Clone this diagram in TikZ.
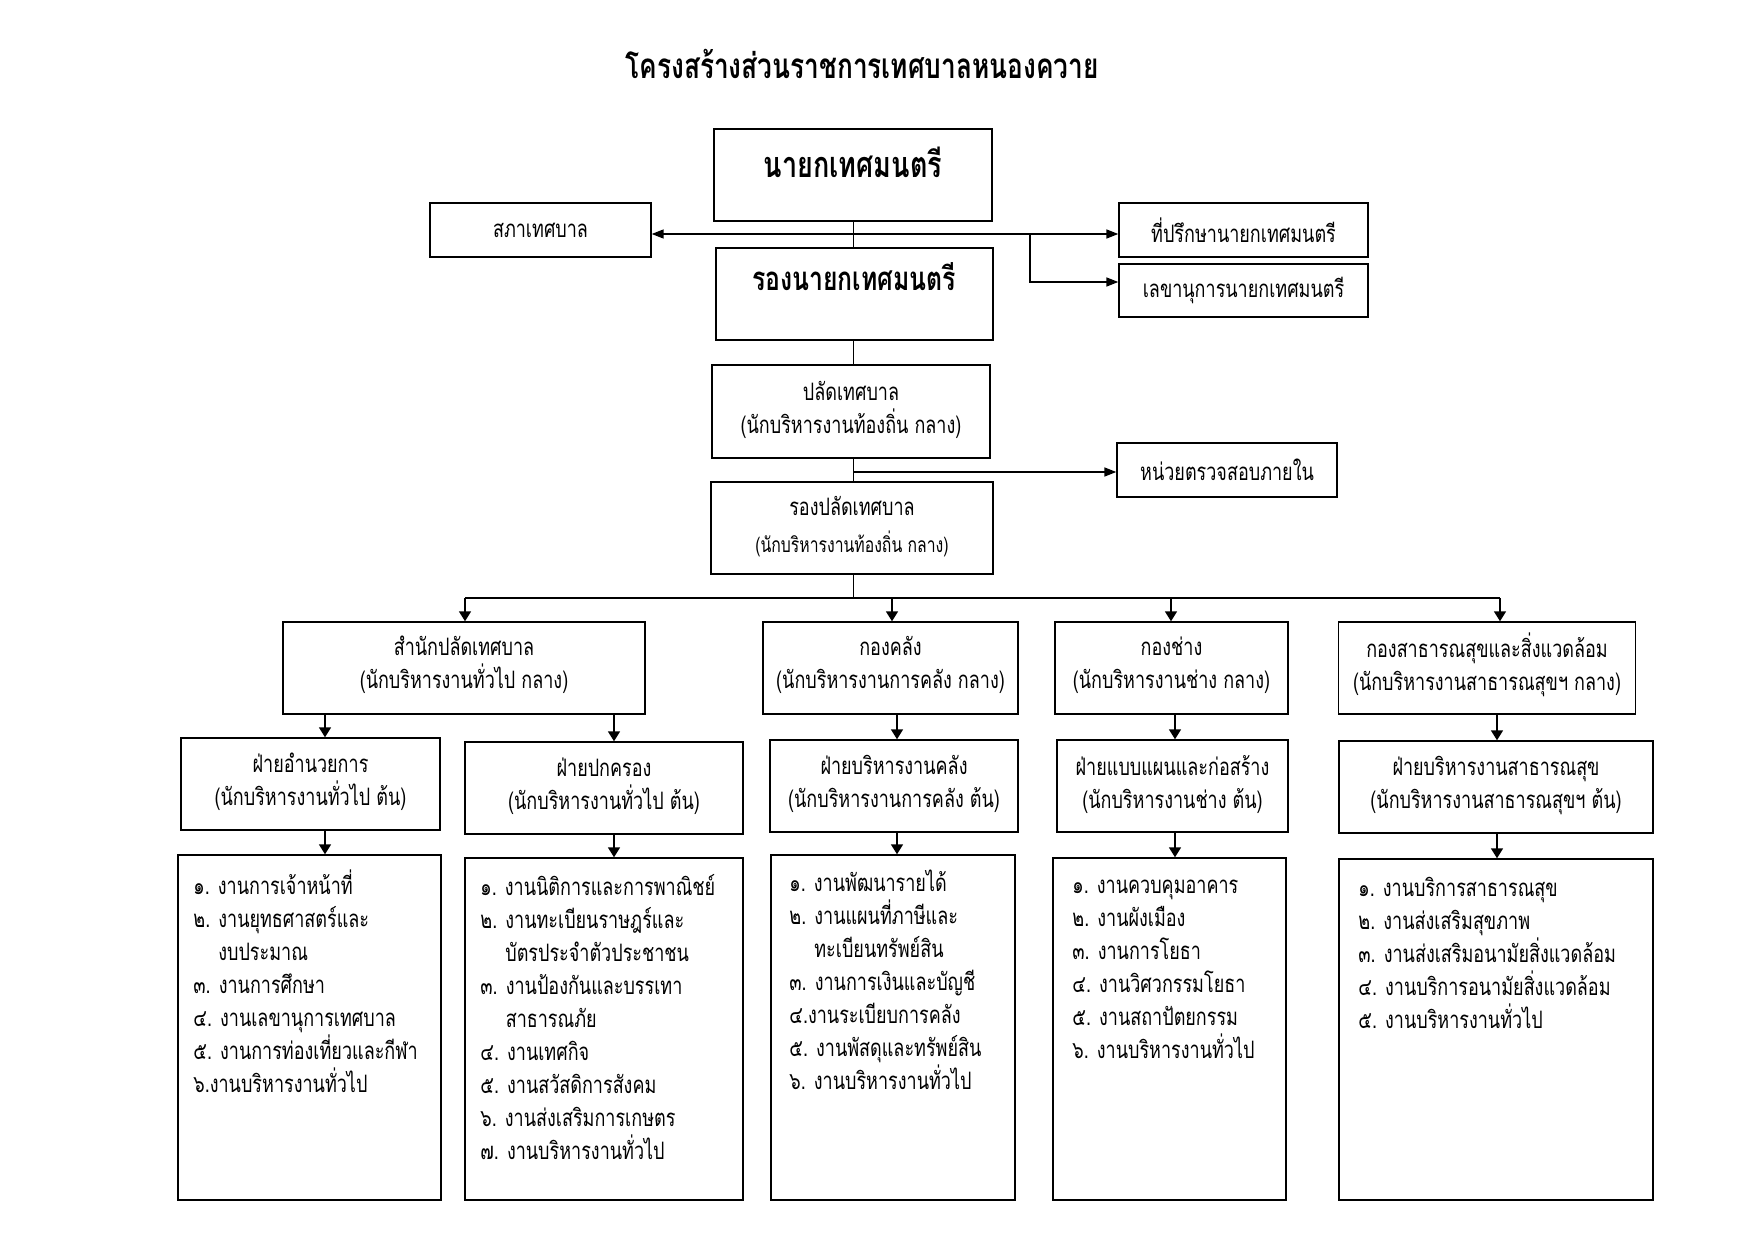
\documentclass[tikz,border=0pt]{standalone}
\usepackage{fontspec}
\setmainfont[Script=Thai,FakeStretch=0.75]{Loma}
\usetikzlibrary{arrows.meta,calc}
\begin{document}
\begin{tikzpicture}[x=0.5pt,y=-0.5pt,
  box/.style={draw,line width=0.7pt,inner sep=0pt,rectangle},
  bx/.style n args={2}{box,minimum width=#1*0.5pt,minimum height=#2*0.5pt},
  tx/.style={font=\fontsize{12}{16.5}\selectfont,align=center,inner sep=0pt},
  bigt/.style={font=\fontsize{18}{22}\selectfont\bfseries,inner sep=0pt},
  lst/.style={font=\fontsize{12}{16.5}\selectfont,align=left,inner sep=0pt,anchor=north west},
  thinl/.style={line width=0.5pt},
  arr/.style={line width=0.8pt,-{Triangle[length=5pt,width=6pt]}},
  harr/.style={line width=0.8pt,-{Triangle[length=6pt,width=4.5pt]}},
]
\useasboundingbox (0,0) rectangle (1755,1241);
% title
\node[font=\fontsize{17.5}{22}\selectfont\bfseries,inner sep=0pt] (title) at (862,64) {โครงสร้างส่วนราชการเทศบาลหนองควาย};
% top boxes
\node[bx={278}{92}] (nayok) at (853,175) {};
\node[bigt] (nayokt) at (853,162) {นายกเทศมนตรี};
\node[bx={221}{54},tx] (sapha) at (540.5,230) {สภาเทศบาล};
\node[bx={249}{54},tx] (thip) at (1243.5,230) {ที่ปรึกษานายกเทศมนตรี};
\node[bx={249}{53},tx] (lekha) at (1243.5,290.5) {เลขานุการนายกเทศมนตรี};
\node[bx={277}{92}] (rongnayok) at (854.5,294) {};
\node[bigt,font=\fontsize{16.5}{20}\selectfont\bfseries] (rongnayokt) at (854,277) {รองนายกเทศมนตรี};
\node[bx={278}{93}] (palad) at (851,411.5) {};
\node[tx] (paladt) at (851,410) {ปลัดเทศบาล\\(นักบริหารงานท้องถิ่น กลาง)};
\node[bx={220}{54},tx] (nuay) at (1227,470) {หน่วยตรวจสอบภายใน};
\node[bx={282}{92}] (rongpalad) at (852,528) {};
\node[tx] (rongpaladt) at (852,527) {รองปลัดเทศบาล\\[2pt]{\fontsize{10.5}{12}\selectfont(นักบริหารงานท้องถิ่น กลาง)}};
% level 2
\node[bx={362}{92}] (samnak) at (464,668) {};
\node[tx] (samnakt) at (464,665) {สำนักปลัดเทศบาล\\(นักบริหารงานทั่วไป กลาง)};
\node[bx={255}{92}] (klang) at (890.5,668) {};
\node[tx] (klangt) at (890.5,665) {กองคลัง\\(นักบริหารงานการคลัง กลาง)};
\node[bx={233}{92}] (chang) at (1171.5,668) {};
\node[tx] (changt) at (1171.5,665) {กองช่าง\\(นักบริหารงานช่าง กลาง)};
\node[bx={297}{92}] (satha) at (1487,668) {};
\node[tx] (sathat) at (1487,665) {กองสาธารณสุขและสิ่งแวดล้อม\\(นักบริหารงานสาธารณสุขฯ กลาง)};
% level 3
\node[bx={259}{92}] (amnuay) at (310.5,784) {};
\node[tx] (amnuayt) at (310.5,782) {ฝ่ายอำนวยการ\\(นักบริหารงานทั่วไป ต้น)};
\node[bx={278}{92}] (pok) at (604,788) {};
\node[tx] (pokt) at (604,786) {ฝ่ายปกครอง\\(นักบริหารงานทั่วไป ต้น)};
\node[bx={248}{92}] (borklang) at (894,786) {};
\node[tx] (borklangt) at (894,784) {ฝ่ายบริหารงานคลัง\\(นักบริหารงานการคลัง ต้น)};
\node[bx={231}{92}] (baeb) at (1172.5,786) {};
\node[tx] (baebt) at (1172.5,784) {ฝ่ายแบบแผนและก่อสร้าง\\(นักบริหารงานช่าง ต้น)};
\node[bx={314}{92}] (borsatha) at (1496,787) {};
\node[tx] (borsathat) at (1496,785) {ฝ่ายบริหารงานสาธารณสุข\\(นักบริหารงานสาธารณสุขฯ ต้น)};
% level 4 boxes
\node[bx={263}{345}] (l1) at (309.5,1027.5) {};
\node[bx={278}{342}] (l2) at (604,1029) {};
\node[bx={244}{345}] (l3) at (893,1027.5) {};
\node[bx={233}{342}] (l4) at (1169.5,1029) {};
\node[bx={314}{341}] (l5) at (1496,1029.5) {};
\node[lst] (l1t) at (193,869) {๑. งานการเจ้าหน้าที่\\๒. งานยุทธศาสตร์และ\\\phantom{๒. }งบประมาณ\\๓. งานการศึกษา\\๔. งานเลขานุการเทศบาล\\๕. งานการท่องเที่ยวและกีฬา\\๖.งานบริหารงานทั่วไป};
\node[lst] (l2t) at (480,874) {๑. งานนิติการและการพาณิชย์\\๒. งานทะเบียนราษฎร์และ\\\phantom{๒. }บัตรประจำตัวประชาชน\\๓. งานป้องกันและบรรเทา\\\phantom{๓. }สาธารณภัย\\๔. งานเทศกิจ\\๕. งานสวัสดิการสังคม\\๖. งานส่งเสริมการเกษตร\\๗. งานบริหารงานทั่วไป};
\node[lst] (l3t) at (789,870) {๑. งานพัฒนารายได้\\๒. งานแผนที่ภาษีและ\\\phantom{๒. }ทะเบียนทรัพย์สิน\\๓. งานการเงินและบัญชี\\๔.งานระเบียบการคลัง\\๕. งานพัสดุและทรัพย์สิน\\๖. งานบริหารงานทั่วไป};
\node[lst] (l4t) at (1072,880) {๑. งานควบคุมอาคาร\\๒. งานผังเมือง\\๓. งานการโยธา\\๔. งานวิศวกรรมโยธา\\๕. งานสถาปัตยกรรม\\๖. งานบริหารงานทั่วไป};
\node[lst] (l5t) at (1358,877) {๑. งานบริการสาธารณสุข\\๒. งานส่งเสริมสุขภาพ\\๓. งานส่งเสริมอนามัยสิ่งแวดล้อม\\๔. งานบริการอนามัยสิ่งแวดล้อม\\๕. งานบริหารงานทั่วไป};
% connectors top
\draw[thinl] (nayok.south) -- (nayok.south |- rongnayok.north);
\coordinate (hj) at (1030,234);
\coordinate (hk) at (1030,282);
\draw[harr,{Triangle[length=6pt,width=4.5pt]}-{Triangle[length=6pt,width=4.5pt]}] (sapha.east |- hj) -- (thip.west |- hj);
\draw[harr] (hj) -- (hk) -- (lekha.west |- hk);
\draw[thinl] (rongnayok.south -| nayok.south) -- (palad.north -| nayok.south);
\coordinate (pj) at (853,472);
\draw[thinl] (palad.south -| pj) -- (rongpalad.north -| pj);
\draw[harr] (pj) -- (nuay.west |- pj);
% bus
\coordinate (bc) at (853,598);
\coordinate (b1) at (465,598);
\coordinate (b2) at (892,598);
\coordinate (b3) at (1171,598);
\coordinate (b4) at (1500,598);
\draw[thinl] (rongpalad.south -| bc) -- (bc);
\draw[line width=0.8pt] (b1) -- (b4);
\draw[arr] (b1) -- (b1 |- samnak.north);
\draw[arr] (b2) -- (b2 |- klang.north);
\draw[arr] (b3) -- (b3 |- chang.north);
\draw[arr] (b4) -- (b4 |- satha.north);
% level 2 -> 3
\coordinate (c1) at (325,714);
\coordinate (c2) at (614,714);
\coordinate (c3) at (897,714);
\coordinate (c4) at (1175,714);
\coordinate (c5) at (1497,714);
\draw[arr] (c1) -- (c1 |- amnuay.north);
\draw[arr] (c2) -- (c2 |- pok.north);
\draw[arr] (c3) -- (c3 |- borklang.north);
\draw[arr] (c4) -- (c4 |- baeb.north);
\draw[arr] (c5) -- (c5 |- borsatha.north);
% level 3 -> 4
\draw[arr] (amnuay.south -| c1) -- (l1.north -| c1);
\draw[arr] (pok.south -| c2) -- (l2.north -| c2);
\draw[arr] (borklang.south -| c3) -- (l3.north -| c3);
\draw[arr] (baeb.south -| c4) -- (l4.north -| c4);
\draw[arr] (borsatha.south -| c5) -- (l5.north -| c5);
\end{tikzpicture}
\end{document}
